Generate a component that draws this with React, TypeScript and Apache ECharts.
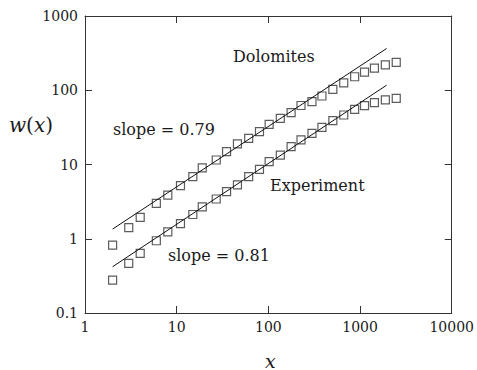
import React, { useEffect, useRef } from "react";
import * as echarts from "echarts";

const xValues = [2, 3, 4, 6, 8, 11, 15, 19, 27, 35, 46, 61, 80, 102, 135, 177, 227, 299, 384, 505, 664, 873, 1119, 1435, 1888, 2482];
const dolomites = [0.82, 1.41, 1.94, 3.0, 3.88, 5.18, 6.85, 9.0, 11.5, 14.9, 18.9, 22.5, 27.7, 34.8, 41.9, 49.9, 62.3, 70.1, 83.7, 103, 126, 152, 175, 198, 219, 238];
const experiment = [0.278, 0.467, 0.637, 0.94, 1.24, 1.6, 2.12, 2.68, 3.43, 4.3, 5.3, 6.85, 8.6, 10.9, 13.4, 17.4, 21.4, 26.3, 31.7, 38.9, 46.4, 55.4, 62, 68, 74, 77.9];
const fitX = [2, 1950];
const fitDolomites = [1.35, 365];
const fitExperiment = [0.42, 117];

const SERIF = "DejaVu Serif";
const INK = "#1a1a1a";

export default function App() {
  const ref = useRef<HTMLDivElement>(null);
  useEffect(() => {
    if (!ref.current) return;
    const chart = echarts.init(ref.current, undefined, { renderer: "svg" });
    const axisCommon = {
      axisLine: { show: true, lineStyle: { color: "#333", width: 1 } },
      axisTick: { show: true, inside: true, length: 7, lineStyle: { color: "#333", width: 1 } },
      minorTick: { show: false },
      splitLine: { show: false },
    };
    const fmt = (v: number) => {
      if (v < 1) return String(Number(v.toPrecision(2)));
      return String(Math.round(v));
    };
    const scatterStyle = {
      color: "rgba(0,0,0,0)",
      borderColor: "#333",
      borderWidth: 1.2,
    };
    const txt = (text: string, left: number, top: number) => ({
      type: "text",
      left,
      top,
      style: { text, fontFamily: SERIF, fontSize: 16, fill: INK },
    });
    chart.setOption({
      animation: false,
      backgroundColor: "#fff",
      textStyle: { fontFamily: SERIF },
      grid: { left: 85, top: 16, width: 370, height: 297, containLabel: false },
      xAxis: [
        {
          type: "log", logBase: 10, min: 1, max: 10000, position: "bottom",
          ...axisCommon,
          axisLabel: { show: true, formatter: fmt, fontFamily: SERIF, fontSize: 14, color: INK, margin: 7 },
        },
        {
          type: "log", logBase: 10, min: 1, max: 10000, position: "top",
          ...axisCommon,
          axisLabel: { show: false },
        },
      ],
      yAxis: [
        {
          type: "log", logBase: 10, min: 0.1, max: 1000, position: "left",
          ...axisCommon,
          axisLabel: { show: true, formatter: fmt, fontFamily: SERIF, fontSize: 14, color: INK, margin: 7 },
        },
        {
          type: "log", logBase: 10, min: 0.1, max: 1000, position: "right",
          ...axisCommon,
          axisLabel: { show: false },
        },
      ],
      series: [
        {
          type: "line",
          data: fitX.map((x, i) => [x, fitDolomites[i]]),
          showSymbol: false,
          lineStyle: { color: "#111", width: 1 },
        },
        {
          type: "line",
          data: fitX.map((x, i) => [x, fitExperiment[i]]),
          showSymbol: false,
          lineStyle: { color: "#111", width: 1 },
        },
        {
          type: "scatter",
          symbol: "rect",
          symbolSize: 8,
          data: xValues.map((x, i) => [x, dolomites[i]]),
          itemStyle: scatterStyle,
        },
        {
          type: "scatter",
          symbol: "rect",
          symbolSize: 8,
          data: xValues.map((x, i) => [x, experiment[i]]),
          itemStyle: scatterStyle,
        },
      ],
      graphic: [
        txt("Dolomites", 233, 48),
        txt("slope = 0.79", 113, 121),
        txt("Experiment", 270, 177),
        txt("slope = 0.81", 168, 247),
        {
          type: "text", left: 9, top: 115,
          style: {
            text: "{i|w}{n|(}{i|x}{n|)}",
            rich: {
              i: { fontFamily: SERIF, fontSize: 20, fontStyle: "italic", fill: INK, color: INK },
              n: { fontFamily: SERIF, fontSize: 20, fill: INK, color: INK },
            },
          },
        },
        { type: "text", left: 265, top: 351, style: { text: "x", fontFamily: SERIF, fontStyle: "italic", fontSize: 19, fill: INK } },
      ],
    });
    return () => chart.dispose();
  }, []);
  return (
    <div
      ref={ref}
      style={{ position: "fixed", left: 0, top: 0, width: 477, height: 370, background: "#fff" }}
    />
  );
}
